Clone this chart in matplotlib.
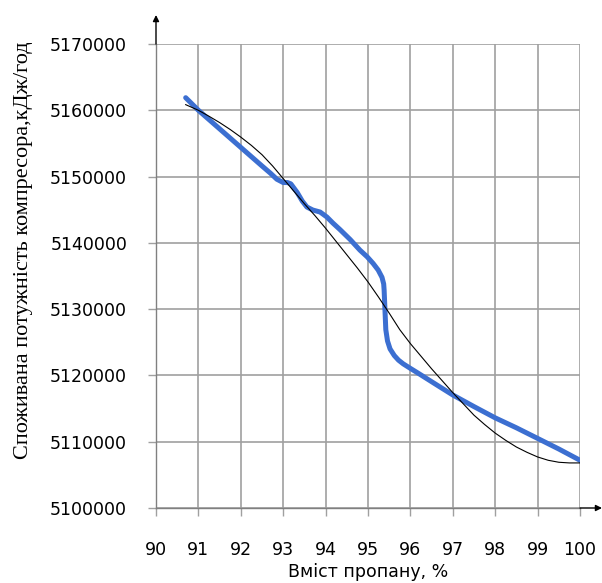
import matplotlib.pyplot as plt

# Measured compressor power vs propane content (smoothed curve)
propane = [90.7, 91.0, 91.5, 92.0, 92.5, 92.7, 92.85, 93.0, 93.1, 93.18,
           93.33, 93.45, 93.56, 93.7, 93.87, 94.03, 94.17, 94.34, 94.58,
           94.81, 94.98, 95.12, 95.24, 95.33, 95.37, 95.38, 95.40, 95.42,
           95.46, 95.52, 95.62, 95.72, 95.83, 95.99, 96.18, 96.39, 96.7,
           97.0, 97.5, 98.0, 98.5, 99.0, 99.5, 100.0]
power = [5161900, 5160000, 5157200, 5154400, 5151600, 5150500, 5149600,
         5149100, 5149100, 5148900, 5147600, 5146300, 5145400, 5144950,
         5144650, 5143900, 5143000, 5142000, 5140500, 5138900, 5137900,
         5136900, 5135900, 5134800, 5133800, 5132900, 5129900, 5126900,
         5125200, 5124000, 5123000, 5122300, 5121750, 5121100, 5120350,
         5119500, 5118250, 5117050, 5115300, 5113600, 5112100, 5110500,
         5108900, 5107200]

# Polynomial trend line
trend_x = [90.7, 91.0, 91.25, 91.5, 91.75, 92.0, 92.25, 92.5, 92.75, 93.0,
           93.25, 93.5, 93.75, 94.0, 94.25, 94.5, 94.75, 95.0, 95.25, 95.5,
           95.75, 96.0, 96.25, 96.5, 96.75, 97.0, 97.25, 97.5, 97.75, 98.0,
           98.25, 98.5, 98.75, 99.0, 99.25, 99.5, 99.75, 100.0]
trend_y = [5160850, 5160000, 5159100, 5158150, 5157100, 5155950, 5154700,
           5153300, 5151600, 5149700, 5147800, 5145900, 5144100, 5142200,
           5140200, 5138200, 5136200, 5134100, 5131800, 5129400, 5126900,
           5124800, 5122900, 5121000, 5119200, 5117400, 5115700, 5114000,
           5112600, 5111300, 5110200, 5109200, 5108400, 5107700, 5107200,
           5106900, 5106800, 5106800]

plt.rcParams['font.family'] = ['DejaVu Sans']

fig = plt.figure(figsize=(6.02, 5.83), dpi=100)
ax = fig.add_axes([156 / 602, 1 - 508 / 583, 424 / 602, 464 / 583])

ax.plot(propane, power, color='#3c6fd1', lw=3.6, solid_capstyle='round',
        solid_joinstyle='round', zorder=3)
ax.plot(trend_x, trend_y, color='black', lw=0.8, zorder=4)

ax.set_xlim(90, 100)
ax.set_ylim(5100000, 5170000)
ax.set_xticks(range(90, 101))
ax.set_yticks(range(5100000, 5170001, 10000))
ax.ticklabel_format(axis='y', style='plain', useOffset=False)
ax.grid(True, color='#a0a0a0', lw=1.2)
ax.set_axisbelow(True)

for s in ['top', 'right']:
    ax.spines[s].set_visible(False)
for s in ['left', 'bottom']:
    ax.spines[s].set_color('#808080')
    ax.spines[s].set_linewidth(1.0)

ax.tick_params(axis='both', length=5.8, width=1.0, color='#a0a0a0',
               labelsize=12.5, labelcolor='black')
ax.tick_params(axis='x', pad=18)
ax.tick_params(axis='y', pad=15)

# axis arrows
ax.annotate('', xy=(0, 1 + 29 / 464), xytext=(0, 1), xycoords='axes fraction',
            arrowprops=dict(arrowstyle='-|>', color='black', lw=1.0,
                            mutation_scale=9, shrinkA=0, shrinkB=0))
ax.annotate('', xy=(1 + 22 / 424, 0), xytext=(1, 0), xycoords='axes fraction',
            arrowprops=dict(arrowstyle='-|>', color='black', lw=1.0,
                            mutation_scale=9, shrinkA=0, shrinkB=0))

ax.set_xlabel('Вміст пропану, %', fontsize=12.5, labelpad=3)
ax.set_ylabel('Споживана потужність компресора,кДж/год',
              family='Liberation Serif', fontsize=16)
ax.yaxis.set_label_coords(-0.29, 0.556)

fig.savefig('out.png', dpi=100)
